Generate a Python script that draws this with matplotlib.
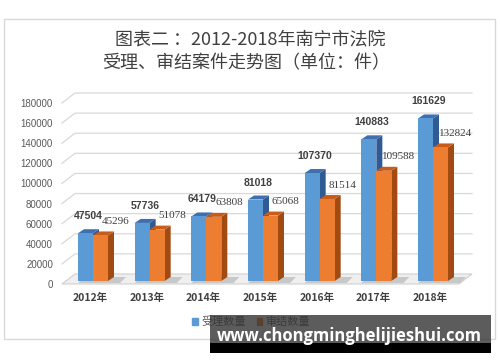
import numpy as np
import matplotlib
matplotlib.use('Agg')
import matplotlib.pyplot as plt
from matplotlib.patches import Polygon, Rectangle, Patch

plt.rcParams['font.family'] = ['Noto Sans CJK SC', 'DejaVu Sans']

# Data
years = ['2012年', '2013年', '2014年', '2015年', '2016年', '2017年', '2018年']
accepted = [47504, 57736, 64179, 81018, 107370, 140883, 161629]   # 受理数量
concluded = [45296, 51078, 63808, 65068, 81514, 109588, 132824]   # 审结数量
y_ticks = list(range(0, 180001, 20000))

title_1 = '图表二 ：2012-2018年南宁市法院'
title_2 = '受理、审结案件走势图（单位：件）'
legend_labels = ['受理数量', '审结数量']
watermark = 'www.chongminghelijieshui.com'

blue = ['#5b9bd5', '#3f6fae', '#2f5a94']      # front, top, side
orange = ['#ed7d31', '#c85d1a', '#a14a12']

fig = plt.figure(figsize=(5, 3.62), dpi=100)
ax = fig.add_axes([0.124, 0.2155, 0.82, 0.5])
x0, x1 = -0.547, 6.688
ax.set_xlim(x0, x1)
ax.set_ylim(0, 180000)

# pixel -> data helpers (fake 3d offsets)
px_x = (x1 - x0) / 410.0
px_y = 180000 / 181.0
w = 15 * px_x
ddx, ddy = 6 * px_x, 4 * px_y
gdx, gdy = 13 * px_x, 10 * px_y
base = 3 * px_y   # bars stand a bit back on the floor

# back wall gridlines with slanted left part
for t in y_ticks[1:]:
    ax.plot([x0, x0 + gdx, x1], [t, t + gdy, t + gdy], color='#d9d9d9',
            lw=0.9, clip_on=False, zorder=0)

# floor
floor = Polygon([[x0, 0], [x0 + gdx, gdy], [x1, gdy], [x1 - gdx, 0]],
                closed=True, facecolor='#efefef', edgecolor='#d0d0d0', lw=0.8,
                clip_on=False, zorder=1)
ax.add_patch(floor)

def draw_bar(xc, h, cols, z):
    left, right = xc - w / 2, xc + w / 2
    top_y = h + base
    side = Polygon([[right, base], [right + ddx, base + ddy], [right + ddx, top_y + ddy], [right, top_y]],
                   facecolor=cols[2], edgecolor='none', clip_on=False, zorder=z)
    top = Polygon([[left, top_y], [left + ddx, top_y + ddy], [right + ddx, top_y + ddy], [right, top_y]],
                  facecolor=cols[1], edgecolor='none', clip_on=False, zorder=z)
    ax.add_patch(side)
    ax.add_patch(top)
    ax.bar(xc, h, width=w, bottom=base, color=cols[0], zorder=z + 1, clip_on=False)

idx = np.arange(len(years))
for i in idx:
    xb = i - w / 2
    xo = i + w / 2
    # floor shadow
    ax.add_patch(Polygon([[xb - w / 2, base * 0.3], [xo + w / 2 + ddx * 2, base * 0.3],
                          [xo + w / 2 + ddx * 3, base + ddy], [xb - w / 2 + ddx, base + ddy]],
                         facecolor='#c8c8c8', edgecolor='none', clip_on=False, zorder=1.5))
    draw_bar(xb, accepted[i], blue, 2)
    draw_bar(xo, concluded[i], orange, 4)
    ax.annotate(str(accepted[i]), (xb, accepted[i] + base), xytext=(3, 17),
                textcoords='offset pixels', ha='center', va='center',
                fontsize=7.5, fontweight='bold', color='#404040',
                family='Liberation Sans', zorder=10)
    ax.annotate(str(concluded[i]), (xo, concluded[i] + base), xytext=(15, 14),
                textcoords='offset pixels', ha='center', va='center',
                fontsize=8, color='#404040', family='Liberation Serif', zorder=10)

ax.set_yticks(y_ticks)
ax.set_yticklabels([str(t) for t in y_ticks], family='Liberation Sans',
                   fontsize=7, color='#595959')
ax.set_xticks(idx - 0.05)
ax.set_xticklabels(years, fontsize=7.5, fontweight='bold', color='#404040')
ax.tick_params(axis='y', length=0, pad=6.5)
ax.tick_params(axis='x', length=0, pad=6.5)
for s in ax.spines.values():
    s.set_visible(False)
ax.patch.set_alpha(0)

# titles
fig.text(250 / 500, 1 - 40 / 362, title_1, ha='center', va='center',
         fontsize=13, color='#404040')
fig.text(246 / 500, 1 - 63 / 362, title_2, ha='center', va='center',
         fontsize=13, color='#404040')

# legend
handles = [Patch(color=blue[0]), Patch(color=orange[0])]
fig.legend(handles, legend_labels, loc='center',
           bbox_to_anchor=(251 / 500, 1 - 322 / 362), ncol=2, frameon=False,
           handlelength=0.5, handleheight=0.5, handletextpad=0.3,
           columnspacing=1.0, prop={'size': 8}, labelcolor='#595959')

# outer frame
fig.patches.append(Rectangle((4 / 500, 1 - 339 / 362), 491 / 500, 320 / 362,
                             transform=fig.transFigure, fill=False,
                             edgecolor='#d9d9d9', lw=1))

# watermark box
fig.patches.append(Rectangle((210 / 500, 1 - 353 / 362), 281 / 500, 38 / 362,
                             transform=fig.transFigure, facecolor='#333333',
                             alpha=0.8, edgecolor='none', zorder=20))
fig.patches.append(Rectangle((210 / 500, 1 - 353 / 362), 281 / 500, 10 / 362,
                             transform=fig.transFigure, facecolor='#000000',
                             edgecolor='none', zorder=21))
fig.text(349 / 500, 1 - 336 / 362, watermark, ha='center', va='center',
         fontsize=12, fontweight='bold', color='white', family='Open Sans',
         zorder=22)

fig.savefig('out.png', dpi=100)
